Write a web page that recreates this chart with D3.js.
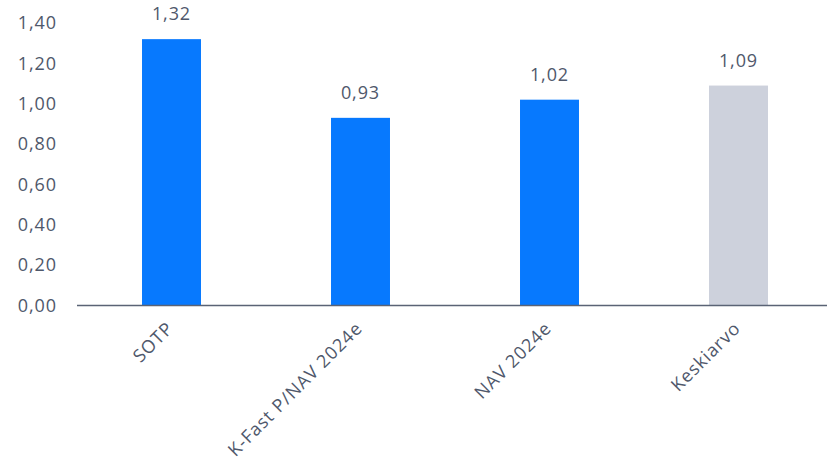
<!DOCTYPE html>
<html>
<head>
<meta charset="utf-8">
<script src="https://cdn.jsdelivr.net/npm/d3@7"></script>
<style>
  html, body { margin: 0; padding: 0; background: #fff; }
  svg text { font-family: "Open Sans", "Noto Sans", sans-serif; fill: #4f586b; letter-spacing: 0.9px; }
</style>
</head>
<body>
<svg id="chart" width="827" height="472"></svg>
<script>
// Valuation multiples by method
const categories = ["SOTP", "K-Fast P/NAV 2024e", "NAV 2024e", "Keskiarvo"];
const values = [1.32, 0.93, 1.02, 1.09];
const barColors = ["#0779fe", "#0779fe", "#0779fe", "#cdd1dc"];
const yTicks = [0, 0.2, 0.4, 0.6, 0.8, 1.0, 1.2, 1.4];

const fmt = v => d3.format(".2f")(v).replace(".", ",");
const FONT = "'Open Sans', 'Noto Sans', sans-serif";

const svg = d3.select("#chart");

const x = d3.scaleBand()
  .domain(categories)
  .range([77, 833])
  .paddingInner(0.688)
  .paddingOuter(0.344);

const y = d3.scaleLinear()
  .domain([0, 1.4])
  .range([305.5, 23]);

// y-axis labels (no axis line, no ticks)
const yAxis = d3.axisLeft(y)
  .tickValues(yTicks)
  .tickFormat(fmt)
  .tickSize(0)
  .tickPadding(0);
const yg = svg.append("g").attr("transform", "translate(57,0)").call(yAxis);
yg.select(".domain").remove();
yg.selectAll("text").attr("font-size", 18).attr("fill", "#4f586b")
  .style("font-family", FONT);

// bars
svg.append("g").selectAll("rect")
  .data(values)
  .join("rect")
  .attr("x", (d, i) => x(categories[i]))
  .attr("width", x.bandwidth())
  .attr("y", d => y(d))
  .attr("height", d => y(0) - y(d))
  .attr("fill", (d, i) => barColors[i]);

// value labels
svg.append("g").selectAll("text")
  .data(values)
  .join("text")
  .attr("x", (d, i) => x(categories[i]) + x.bandwidth() / 2)
  .attr("y", d => y(d) - 19)
  .attr("text-anchor", "middle")
  .attr("font-size", 18)
  .text(fmt);

// baseline
svg.append("line")
  .attr("x1", 77).attr("x2", 827)
  .attr("y1", y(0)).attr("y2", y(0))
  .attr("stroke", "#5a6375")
  .attr("stroke-width", 1.6);

// rotated category labels
const xAxis = d3.axisBottom(x).tickSize(0).tickPadding(0);
const xg = svg.append("g").attr("transform", `translate(0,${y(0)})`).call(xAxis);
xg.select(".domain").remove();
xg.selectAll("text")
  .attr("font-size", 18)
  .attr("fill", "#4f586b")
  .style("font-family", FONT)
  .attr("text-anchor", "end")
  .attr("dy", 0)
  .attr("transform", "translate(3,24) rotate(-45)");
</script>
</body>
</html>
